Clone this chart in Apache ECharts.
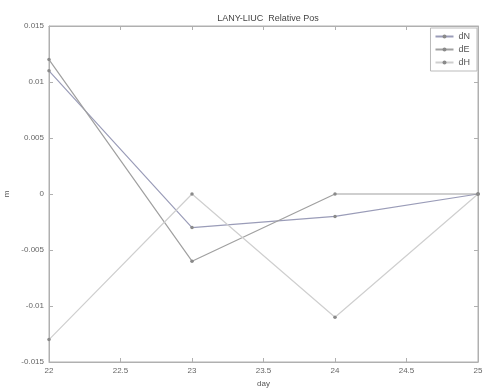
<!DOCTYPE html>
<html><head><meta charset="utf-8">
<script src="https://cdn.jsdelivr.net/npm/echarts@6/dist/echarts.min.js"></script>
<style>html,body{margin:0;padding:0;background:#fff}#c{width:484px;height:392px}</style>
</head><body><div id="c"></div>
<script>
const days = [22, 23, 24, 25];
const dN = [0.011, -0.003, -0.002, 0];
const dE = [0.012, -0.006, 0, 0];
const dH = [-0.013, 0, -0.011, 0];
const seriesNames = ['dN', 'dE', 'dH'];
const xTicks = [22, 22.5, 23, 23.5, 24, 24.5, 25];
const yTicks = [-0.015, -0.01, -0.005, 0, 0.005, 0.01, 0.015];

const colors = ['#9a9cb8', '#a0a0a0', '#cfcfcf'];
const vals = [dN, dE, dH];
const chart = echarts.init(document.getElementById('c'));
const axisCommon = {
  axisLine: {show: true, onZero: false, lineStyle: {color: '#b0b0b0', width: 1}},
  axisTick: {show: true, inside: true, length: 4, lineStyle: {color: '#b0b0b0'}},
  splitLine: {show: false}
};
chart.setOption({
  animation: false,
  backgroundColor: '#fff',
  title: {text: 'LANY-LIUC  Relative Pos', left: 263, top: 9, textAlign: 'center',
    textStyle: {fontSize: 9, fontWeight: 'normal', color: '#444', fontFamily: 'Liberation Sans'}},
  legend: {
    right: 7, top: 28, orient: 'vertical', itemGap: 4, itemWidth: 18, itemHeight: 5,
    backgroundColor: '#fff', borderColor: '#bbb', borderWidth: 1, padding: [4, 7, 4, 4],
    textStyle: {fontSize: 9, color: '#555', fontFamily: 'Liberation Sans'},
    itemStyle: {borderWidth: 0},
    data: seriesNames
  },
  grid: {left: 49, right: 6, top: 26, bottom: 30, show: true, borderColor: '#b0b0b0', borderWidth: 1,
    outerBoundsMode: 'none', containLabel: false},
  xAxis: [
    Object.assign({type: 'value', min: 22, max: 25, interval: 0.5, name: 'day',
      nameLocation: 'middle', nameGap: 17,
      nameTextStyle: {fontSize: 8, color: '#555', fontFamily: 'Liberation Sans'},
      axisLabel: {fontSize: 8, color: '#666', margin: 5, fontFamily: 'Liberation Sans',
        formatter: v => String(+v.toFixed(1))}}, axisCommon),
    Object.assign({type: 'value', min: 22, max: 25, interval: 0.5, position: 'top',
      axisLabel: {show: false}}, axisCommon)
  ],
  yAxis: [
    Object.assign({type: 'value', min: -0.015, max: 0.015, interval: 0.005, name: 'm',
      nameLocation: 'middle', nameGap: 35, nameRotate: 90,
      nameTextStyle: {fontSize: 8, color: '#555', fontFamily: 'Liberation Sans'},
      axisLabel: {fontSize: 8, color: '#666', margin: 5, fontFamily: 'Liberation Sans',
        formatter: v => String(+v.toFixed(3))}}, axisCommon),
    Object.assign({type: 'value', min: -0.015, max: 0.015, interval: 0.005, position: 'right',
      axisLabel: {show: false}}, axisCommon)
  ],
  series: seriesNames.map((n, i) => ({
    name: n, type: 'line', xAxisIndex: 0, yAxisIndex: 0,
    data: days.map((d, j) => [d, vals[i][j]]),
    symbol: 'circle', symbolSize: 3.5,
    lineStyle: {color: colors[i], width: 1.2},
    itemStyle: {color: '#8a8a8a', borderWidth: 0}
  }))
});
</script></body></html>
